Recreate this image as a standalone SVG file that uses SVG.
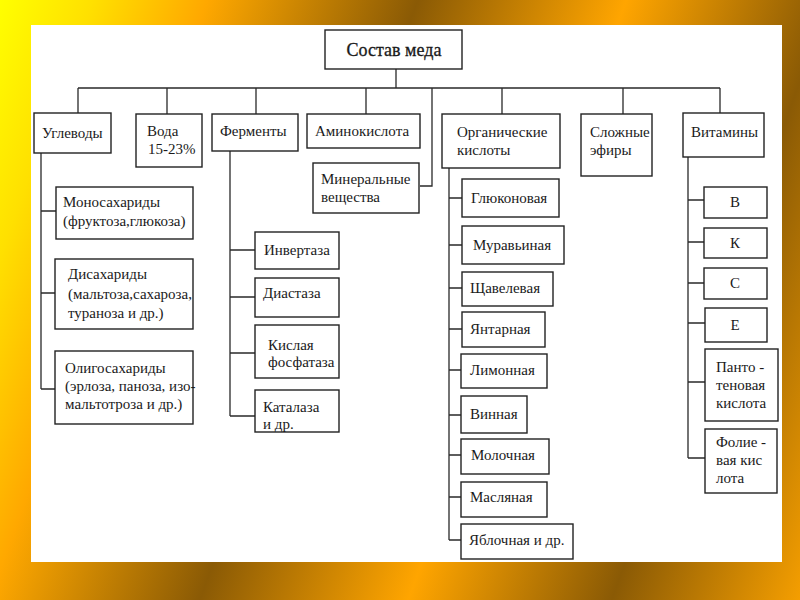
<svg xmlns="http://www.w3.org/2000/svg" width="800" height="600" viewBox="0 0 800 600">
<defs>
<linearGradient id="bg" gradientUnits="userSpaceOnUse" x1="0" y1="0" x2="916" y2="333">
<stop offset="0" stop-color="#ffff00"/>
<stop offset="0.09" stop-color="#ffe000"/>
<stop offset="0.2" stop-color="#ffa800"/>
<stop offset="0.403" stop-color="#8a5a05"/>
<stop offset="0.604" stop-color="#ffa500"/>
<stop offset="0.8" stop-color="#8a5a05"/>
<stop offset="1" stop-color="#ffa500"/>
</linearGradient>
<style>
.b{fill:#fff;stroke:#222;stroke-width:1.4}
.t{font-family:"Liberation Serif","Times New Roman",serif;font-size:15px;fill:#1a1a1a}
.c{text-anchor:middle}
.h{font-size:18px;stroke:#1a1a1a;stroke-width:0.3}
.l{fill:none;stroke:#2a2a2a;stroke-width:1.3}
</style>
</defs>
<rect x="0" y="0" width="800" height="600" fill="url(#bg)"/>
<rect x="31" y="25" width="751" height="537" fill="#fff"/>
<g id="connectors" class="l">
<path d="M396,69V88M78,88H720M78,88V113M167,88V114M256,88V114M366,88V114M432,88V186H420M502,88V114M623,88V114M720,88V113"/>
<path d="M41,153V389M41,211H56M41,293H55M41,389H55"/>
<path d="M230,151V416M230,250H255M230,297H255M230,353H255M230,416H255"/>
<path d="M449,168V540M449,198H462M449,245H462M449,288H462M449,329H462M449,370H461M449,415H461M449,455H461M449,497H461M449,540H461"/>
<path d="M688,157V458M688,200H704M688,242H704M688,283H704M688,323H705M688,382H705M688,458H705"/>
</g>
<g id="root"><rect class="b" x="325" y="30" width="137" height="39"/><text class="t c h" x="394" y="56">Состав меда</text></g>
<g id="uglevody"><rect class="b" x="34" y="113" width="77" height="40"/><text class="t" x="42" y="138">Углеводы</text></g>
<g id="voda"><rect class="b" x="136" y="114" width="66" height="53"/><text class="t" x="147" y="136">Вода</text><text class="t" x="148" y="154">15-23%</text></g>
<g id="fermenty"><rect class="b" x="212" y="114" width="86" height="37"/><text class="t" x="220" y="136">Ферменты</text></g>
<g id="aminokislota"><rect class="b" x="307" y="114" width="113" height="34"/><text class="t" x="315" y="136">Аминокислота</text></g>
<g id="mineralnye"><rect class="b" x="313" y="163" width="106" height="50"/><text class="t" x="321" y="184">Минеральные</text><text class="t" x="321" y="202">вещества</text></g>
<g id="organicheskie"><rect class="b" x="442" y="114" width="118" height="54"/><text class="t" x="457" y="137">Органические</text><text class="t" x="457" y="155">кислоты</text></g>
<g id="slozhnye"><rect class="b" x="581" y="114" width="71" height="62"/><text class="t" x="590" y="137">Сложные</text><text class="t" x="590" y="155">эфиры</text></g>
<g id="vitaminy"><rect class="b" x="683" y="113" width="81" height="44"/><text class="t" x="691" y="137">Витамины</text></g>
<g id="mono"><rect class="b" x="56" y="187" width="137" height="52"/><text class="t" x="63" y="207">Моносахариды</text><text class="t" x="63" y="226">(фруктоза,глюкоза)</text></g>
<g id="di"><rect class="b" x="55" y="259" width="138" height="70"/><text class="t" x="68" y="279">Дисахариды</text><text class="t" x="68" y="299">(мальтоза,сахароза,</text><text class="t" x="68" y="318">тураноза и др.)</text></g>
<g id="oligo"><rect class="b" x="55" y="351" width="138" height="73"/><text class="t" x="65" y="373">Олигосахариды</text><text class="t" x="65" y="391">(эрлоза, паноза, изо-</text><text class="t" x="65" y="409">мальтотроза и др.)</text></g>
<g id="invertaza"><rect class="b" x="255" y="232" width="84" height="37"/><text class="t" x="264" y="255">Инвертаза</text></g>
<g id="diastaza"><rect class="b" x="255" y="278" width="84" height="39"/><text class="t" x="263" y="298">Диастаза</text></g>
<g id="kislaya"><rect class="b" x="255" y="325" width="84" height="53"/><text class="t" x="268" y="350">Кислая</text><text class="t" x="268" y="367">фосфатаза</text></g>
<g id="katalaza"><rect class="b" x="255" y="390" width="84" height="42"/><text class="t" x="263" y="412">Каталаза</text><text class="t" x="263" y="429">и др.</text></g>
<g id="glyukonovaya"><rect class="b" x="462" y="179" width="97" height="38"/><text class="t" x="471" y="203">Глюконовая</text></g>
<g id="muravinaya"><rect class="b" x="462" y="226" width="102" height="38"/><text class="t" x="473" y="250">Муравьиная</text></g>
<g id="shchavelevaya"><rect class="b" x="462" y="272" width="91" height="34"/><text class="t" x="470" y="293">Щавелевая</text></g>
<g id="yantarnaya"><rect class="b" x="462" y="312" width="83" height="35"/><text class="t" x="470" y="334">Янтарная</text></g>
<g id="limonnaya"><rect class="b" x="461" y="354" width="86" height="34"/><text class="t" x="470" y="375">Лимонная</text></g>
<g id="vinnaya"><rect class="b" x="461" y="396" width="66" height="37"/><text class="t" x="470" y="419">Винная</text></g>
<g id="molochnaya"><rect class="b" x="461" y="439" width="88" height="35"/><text class="t" x="471" y="460">Молочная</text></g>
<g id="maslyanaya"><rect class="b" x="461" y="482" width="86" height="35"/><text class="t" x="470" y="502">Масляная</text></g>
<g id="yablochnaya"><rect class="b" x="461" y="524" width="112" height="35"/><text class="t" x="469" y="545">Яблочная и др.</text></g>
<g id="vitB"><rect class="b" x="704" y="187" width="63" height="31"/><text class="t c" x="735" y="207">В</text></g>
<g id="vitK"><rect class="b" x="704" y="228" width="63" height="30"/><text class="t c" x="735" y="248">К</text></g>
<g id="vitC"><rect class="b" x="704" y="268" width="63" height="31"/><text class="t c" x="735" y="288">С</text></g>
<g id="vitE"><rect class="b" x="705" y="308" width="62" height="34"/><text class="t c" x="735" y="330">Е</text></g>
<g id="panto"><rect class="b" x="705" y="349" width="73" height="72"/><text class="t" x="716" y="372">Панто -</text><text class="t" x="716" y="390">теновая</text><text class="t" x="716" y="408">кислота</text></g>
<g id="folie"><rect class="b" x="705" y="429" width="72" height="64"/><text class="t" x="716" y="447">Фолие -</text><text class="t" x="716" y="465">вая кис</text><text class="t" x="716" y="483">лота</text></g>
</svg>
